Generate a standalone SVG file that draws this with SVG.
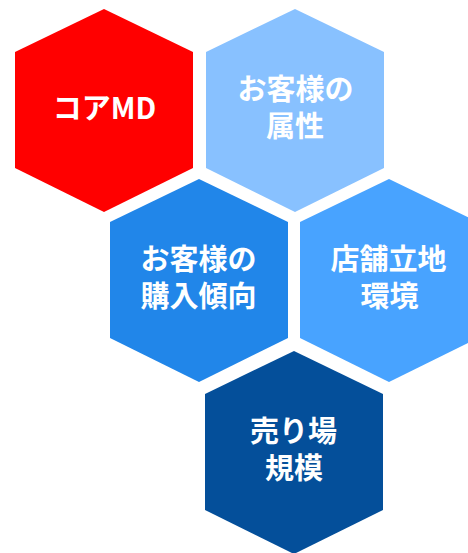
<svg xmlns="http://www.w3.org/2000/svg" width="468" height="553" viewBox="0 0 468 553">
<style>
text{font-family:"Noto Sans CJK JP","Noto Sans",sans-serif;font-weight:700;font-size:29px;fill:#fff;text-anchor:middle}
</style>
<rect width="468" height="553" fill="#fff"/>
<g id="core-md">
<polygon points="104,9 193,52 193,168 104,212 15,168 15,52" fill="#FF0000"/>
<text x="104.5" y="119">コアMD</text>
</g>
<g id="customer-attributes">
<polygon points="295,9 384,52 384,168 295,212 206,168 206,52" fill="#88C1FF"/>
<text x="295.5" y="100">お客様の</text>
<text x="295" y="136.5">属性</text>
</g>
<g id="purchase-trend">
<polygon points="199,179 288,222 288,338 199,382 110,338 110,222" fill="#2186E9"/>
<text x="198.5" y="270">お客様の</text>
<text x="198.5" y="306.5">購入傾向</text>
</g>
<g id="store-location">
<polygon points="389,179 478,222 478,338 389,382 300,338 300,222" fill="#48A3FF"/>
<text x="388.5" y="270">店舗立地</text>
<text x="389.5" y="306.5">環境</text>
</g>
<g id="floor-scale">
<polygon points="294,351 383,394 383,510 294,554 205,510 205,394" fill="#044F9A"/>
<text x="293.5" y="441.5">売り場</text>
<text x="294" y="478.5">規模</text>
</g>
<g id="connectors"></g>
</svg>
